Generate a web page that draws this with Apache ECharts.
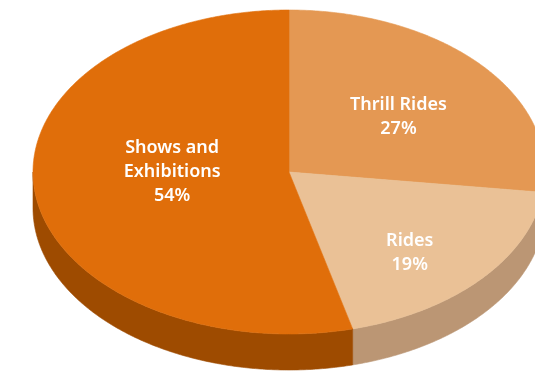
<!DOCTYPE html>
<html><head><meta charset="utf-8">
<script src="https://cdn.jsdelivr.net/npm/echarts@6/dist/echarts.min.js"></script>
<style>html,body{margin:0;padding:0;background:#fff}#c{width:535px;height:371px}</style>
</head><body><div id="c"></div>
<script>
const categories = ['Thrill Rides', 'Rides', 'Shows and\nExhibitions'];
const values = [27, 19, 54];
const labels = ['27%', '19%', '54%'];

const topColors = ['#E49853', '#EAC196', '#E06E0A'];
const sideColors = ['#B8743A', '#BB9674', '#9E4B00'];
const labelRadius = [0.57, 0.66, 0.46];
const labelShift = [[0, 6], [-6, 10], [0, -9]];

const chart = echarts.init(document.getElementById('c'), null, {renderer: 'canvas'});
const total = values.reduce((a, b) => a + b, 0);

function renderItem(params, api) {
  const i = params.dataIndex;
  const cx = 289, cy = 172, rx = 256, ry = 162, depth = 36;
  let before = 0;
  for (let k = 0; k < i; k++) before += values[k];
  const v = api.value(1);
  const t0 = before / total * 360, t1 = (before + v) / total * 360;
  const pt = (t, dy) => {
    const r = t * Math.PI / 180;
    return [cx + rx * Math.sin(r), cy - ry * Math.cos(r) + (dy || 0)];
  };
  const children = [];
  const a = Math.max(t0, 90), b = Math.min(t1, 270);
  if (b > a) {
    const pts = [];
    for (let t = a; t <= b; t += 0.5) pts.push(pt(t));
    pts.push(pt(b));
    for (let t = b; t >= a; t -= 0.5) pts.push(pt(t, depth));
    pts.push(pt(a, depth));
    children.push({type: 'polygon', shape: {points: pts},
      style: {fill: sideColors[i], stroke: sideColors[i], lineWidth: 0.6}});
  }
  const tp = [[cx, cy]];
  for (let t = t0; t <= t1; t += 0.5) tp.push(pt(t));
  tp.push(pt(t1));
  children.push({type: 'polygon', shape: {points: tp},
    style: {fill: topColors[i], stroke: topColors[i], lineWidth: 0.6}});
  const tm = (t0 + t1) / 2 * Math.PI / 180;
  const lr = labelRadius[i];
  children.push({type: 'text',
    x: cx + rx * lr * Math.sin(tm) + labelShift[i][0],
    y: cy - ry * lr * Math.cos(tm) + labelShift[i][1],
    style: {text: categories[i] + '\n' + labels[i], fill: '#fff', align: 'center', verticalAlign: 'middle',
      font: '600 18px "Noto Sans"', lineHeight: 24}});
  return {type: 'group', children: children};
}

chart.setOption({
  animation: false,
  series: [{
    type: 'custom',
    coordinateSystem: 'none',
    renderItem: renderItem,
    data: categories.map((c, i) => [i, values[i]])
  }]
});
</script></body></html>
